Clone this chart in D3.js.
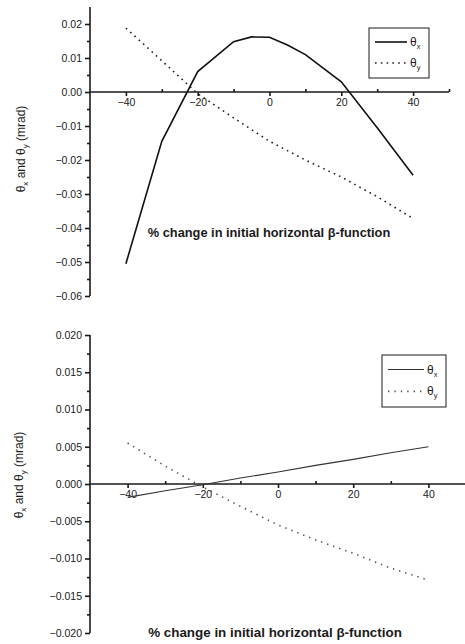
<!DOCTYPE html>
<html>
<head>
<meta charset="utf-8">
<script src="https://cdn.jsdelivr.net/npm/d3@7"></script>
<style>
  body { margin: 0; background: #fff; }
  svg { display: block; font-family: Arial, "Liberation Sans", sans-serif; }
</style>
</head>
<body>
<svg id="chart" width="465" height="644"></svg>
<script>
// % change in initial horizontal beta-function
let topX = [-40, -30, -20, -10, -5, 0, 5, 10, 20, 30, 40];
let topThetaX = [-0.0505, -0.0145, 0.0060, 0.0148, 0.0162, 0.0161, 0.0138, 0.0110, 0.0030, -0.0105, -0.0245];
let topYX = [-40, -30, -20, -10, 0, 10, 20, 30, 40];
let topThetaY = [0.0188, 0.0092, -0.0005, -0.0076, -0.0145, -0.0200, -0.0250, -0.0308, -0.0372];

let botX = [-40, -30, -20, -10, 0, 10, 20, 30, 40];
let botThetaX = [-0.0018, -0.0009, -0.0001, 0.0008, 0.0016, 0.0025, 0.0033, 0.0042, 0.0050];
let botThetaY = [0.0055, 0.0024, -0.0004, -0.0030, -0.0055, -0.0075, -0.0093, -0.0113, -0.0129];

let xMajor = [-40, -20, 0, 20, 40];
let xMinor = [-30, -10, 10, 30, 50];
let topYTicks = [0.02, 0.01, 0.00, -0.01, -0.02, -0.03, -0.04, -0.05, -0.06];
let botYTicks = [0.020, 0.015, 0.010, 0.005, 0.000, -0.005, -0.010, -0.015, -0.020];

let xTitle = "% change in initial horizontal \u03B2-function";

let svg = d3.select("#chart");
let ink = "#1a1a1a";

function zip(xs, ys) { return xs.map((x, i) => [x, ys[i]]); }

function drawPanel(p) {
    let x = d3.scaleLinear().domain([-50, 50]).range(p.xRange);
    let y = d3.scaleLinear().domain(p.yDomain).range(p.yRange);
    let g = svg.append("g");

    // y axis (left, at x = -50)
    let yAxis = g.append("g")
        .attr("transform", `translate(${x(-50)},0)`)
        .call(d3.axisLeft(y).tickValues(p.yTicks).tickSize(5).tickPadding(3).tickFormat(d3.format(p.yFmt)));
    let yMinorVals = d3.range(p.yTicks.length - 1).map(i => (p.yTicks[i] + p.yTicks[i + 1]) / 2);
    let yMinor = g.append("g")
        .attr("transform", `translate(${x(-50)},0)`)
        .call(d3.axisLeft(y).tickValues(yMinorVals).tickSize(3).tickFormat(""));
    yMinor.select(".domain").remove();

    // x axis through zero
    let xAxis = g.append("g")
        .attr("transform", `translate(0,${y(0)})`)
        .call(d3.axisBottom(x).tickValues(xMajor).tickSize(4).tickPadding(3).tickFormat(d3.format("d")));
    let xMinorAxis = g.append("g")
        .attr("transform", `translate(0,${y(0)})`)
        .call(d3.axisTop(x).tickValues(xMinor).tickSize(3).tickFormat(""));
    xMinorAxis.select(".domain").remove();

    [yAxis, yMinor, xAxis, xMinorAxis].forEach(a => {
        a.selectAll("path, line").style("stroke", ink).style("stroke-width", p.axisW);
        a.selectAll("text").style("fill", ink).style("font-size", "10.5px");
    });
    yAxis.select(".domain").attr("d", `M0,${p.yRange[1]}V${p.yRange[0]}`);
    xAxis.select(".domain").attr("d", `M${p.xRange[0]},0H${p.xRange[1]}`);

    let line = d3.line().x(d => x(d[0])).y(d => y(d[1]));

    g.append("path")
        .datum(zip(p.xs, p.thetaX))
        .attr("d", line)
        .style("fill", "none")
        .style("stroke", p.solidColor)
        .style("stroke-width", p.solidW);

    g.append("path")
        .datum(zip(p.yxs, p.thetaY))
        .attr("d", line)
        .style("fill", "none")
        .style("stroke", p.dotColor)
        .style("stroke-width", 1.6)
        .style("stroke-dasharray", p.dash);

    // legend
    let lg = g.append("g").attr("transform", `translate(${p.legend[0]},${p.legend[1]})`);
    lg.append("rect")
        .attr("width", p.legend[2]).attr("height", p.legend[3])
        .style("fill", "#fff").style("stroke", ink).style("stroke-width", 1);
    let items = [["x", p.solidColor, p.solidW, null], ["y", p.dotColor, 1.6, p.dash]];
    items.forEach((it, i) => {
        let ly = p.legend[3] * (i === 0 ? 0.28 : 0.70);
        lg.append("line")
            .attr("x1", 6).attr("x2", p.legend[2] - 22)
            .attr("y1", ly).attr("y2", ly)
            .style("stroke", it[1]).style("stroke-width", it[2])
            .style("stroke-dasharray", it[3]);
        let t = lg.append("text")
            .attr("x", p.legend[2] - 19).attr("y", ly + 4)
            .style("font-size", "12px").style("fill", ink);
        t.append("tspan").text("\u03B8");
        t.append("tspan").attr("dy", 3).style("font-size", "7.5px").text(it[0]);
    });

    // y title
    let yt = g.append("text")
        .attr("transform", `translate(${p.yTitle[0]},${p.yTitle[1]}) rotate(-90)`)
        .style("text-anchor", "middle")
        .style("font-size", "12px")
        .style("fill", ink);
    yt.append("tspan").text("\u03B8");
    yt.append("tspan").attr("dy", 3).style("font-size", "8px").text("x");
    yt.append("tspan").attr("dy", -3).text(" and \u03B8");
    yt.append("tspan").attr("dy", 3).style("font-size", "8px").text("y");
    yt.append("tspan").attr("dy", -3).text(" (mrad)");

    // x title
    g.append("text")
        .attr("x", p.xTitle[0]).attr("y", p.xTitle[1])
        .style("text-anchor", "middle")
        .style("font-size", p.xTitleSize)
        .style("font-weight", "bold")
        .style("fill", ink)
        .text(xTitle);
}

drawPanel({
    xRange: [90, 449], yDomain: [-0.06, 0.025], yRange: [296, 7],
    yTicks: topYTicks, yFmt: ".2f", axisW: 1.6,
    xs: topX, thetaX: topThetaX, yxs: topYX, thetaY: topThetaY,
    solidColor: "#111", solidW: 1.6, dotColor: "#222", dash: "1.6,4.2",
    legend: [369, 28, 60, 50], yTitle: [25, 149], xTitle: [269, 237], xTitleSize: "12.8px"
});

drawPanel({
    xRange: [90, 466], yDomain: [-0.02, 0.02], yRange: [633, 335],
    yTicks: botYTicks, yFmt: ".3f", axisW: 1.6,
    xs: botX, thetaX: botThetaX, yxs: botX, thetaY: botThetaY,
    solidColor: "#333", solidW: 1.1, dotColor: "#555", dash: "1.4,5",
    legend: [382, 355, 64, 52], yTitle: [23, 475], xTitle: [275, 637], xTitleSize: "13.4px"
});
</script>
</body>
</html>
